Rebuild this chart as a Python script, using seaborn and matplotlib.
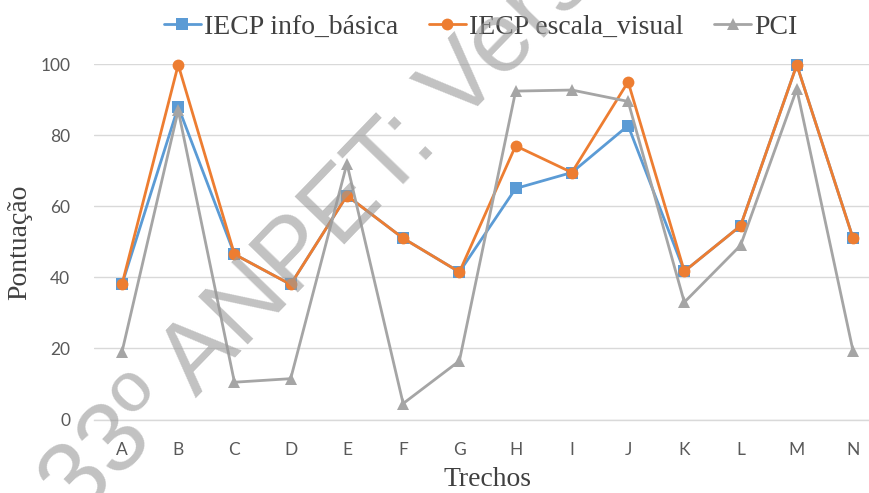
import matplotlib
matplotlib.use("Agg")
import matplotlib.pyplot as plt
import seaborn as sns
import pandas as pd

categories = ["A", "B", "C", "D", "E", "F", "G", "H", "I", "J", "K", "L", "M", "N"]
iecp_info = [38, 88, 46.5, 38, 63, 51, 41.5, 65, 69.5, 82.7, 41.7, 54.5, 99.8, 51]
iecp_escala = [38, 99.8, 46.5, 38, 63, 51, 41.5, 77, 69.5, 95, 41.7, 54.5, 99.8, 51]
pci = [19, 87, 10.5, 11.5, 72, 4.5, 16.5, 92.4, 92.7, 89.5, 33, 49, 93, 19.3]
series_names = ["IECP info_básica", "IECP escala_visual", "PCI"]
y_ticks = [0, 20, 40, 60, 80, 100]

sns.set_theme(style="white")
plt.rcParams["font.family"] = ["DejaVu Sans"]

df = pd.concat([
    pd.DataFrame({"Trecho": categories, "Pontuação": vals, "Série": name, "x": range(len(categories))})
    for name, vals in zip(series_names, [iecp_info, iecp_escala, pci])
])

fig = plt.figure(figsize=(8.69, 4.93), dpi=100)
ax = fig.add_axes([0.108, 0.149, 0.906, 0.721])

palette = {"IECP info_básica": "#5B9BD5", "IECP escala_visual": "#ED7D31", "PCI": "#A5A5A5"}
markers = {"IECP info_básica": "s", "IECP escala_visual": "o", "PCI": "^"}
sns.lineplot(data=df, x="x", y="Pontuação", hue="Série", style="Série",
             palette=palette, markers=markers, dashes=False, linewidth=2.0,
             markersize=8.5, markeredgewidth=0, ax=ax, legend=True, sort=False,
             hue_order=series_names, style_order=series_names)
for line in ax.lines:
    line.set_clip_on(False)

ax.set_xlim(-0.5, len(categories) - 0.5)
ax.set_ylim(0, 100)
ax.set_yticks(y_ticks)
ax.set_xticks(range(len(categories)))
ax.set_xticklabels(categories)
ax.yaxis.grid(True, color="#D9D9D9", linewidth=1.0)
ax.set_axisbelow(True)
for s in ["top", "right", "left"]:
    ax.spines[s].set_visible(False)
ax.spines["bottom"].set_color("#D9D9D9")
ax.spines["bottom"].set_linewidth(1.0)
ax.tick_params(axis="both", length=0, labelsize=12.5, labelcolor="#595959")
ax.tick_params(axis="y", pad=17)
ax.tick_params(axis="x", pad=16)
for lab in ax.get_xticklabels() + ax.get_yticklabels():
    lab.set_family(["Lato", "DejaVu Sans"])

ax.set_xlabel("Trechos", fontsize=20, family=["Liberation Serif"], color="#404040", labelpad=7)
ax.set_ylabel("Pontuação", fontsize=20, family=["Liberation Serif"], color="#404040", labelpad=6)

handles, labels = ax.get_legend_handles_labels()
ax.legend_.remove()
fig.legend(handles, labels, loc="center", bbox_to_anchor=(0.553, 0.945), ncol=3, frameon=False,
           prop={"family": "Liberation Serif", "size": 20}, handlelength=1.35, handletextpad=0.1,
           columnspacing=1.1, labelcolor="#404040")

fig.text(78 / 869, 1 - 520 / 493, "33º ANPET: Versão", fontsize=72,
         family=["Liberation Sans"], color="#999999", alpha=0.6, rotation=46,
         rotation_mode="anchor", ha="left", va="baseline", zorder=10)

fig.savefig("out.png", dpi=100)
